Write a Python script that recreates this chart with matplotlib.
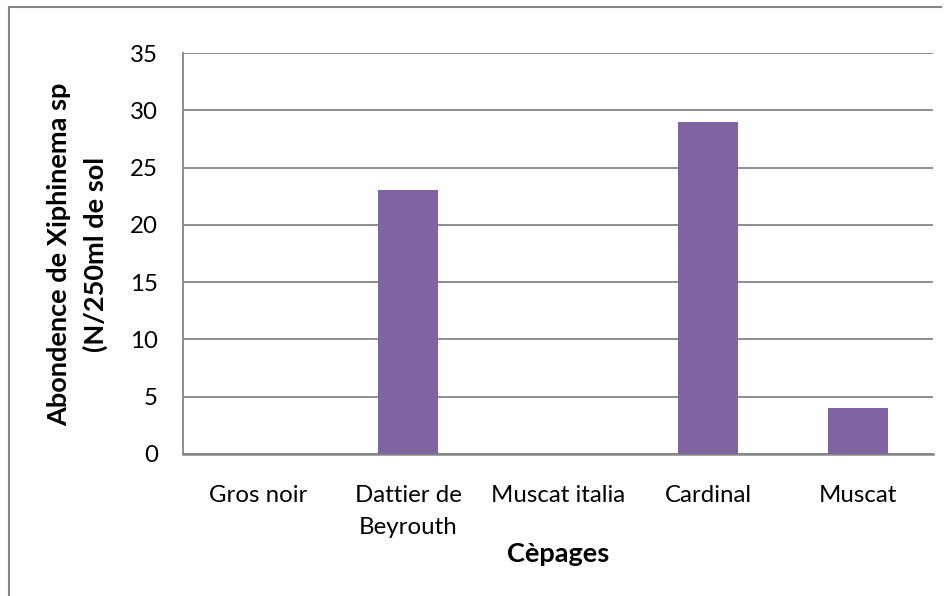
import matplotlib.pyplot as plt
from matplotlib.lines import Line2D

# données
cepages = ['Gros noir', 'Dattier de\nBeyrouth', 'Muscat italia', 'Cardinal', 'Muscat']
abondance = [0, 23, 0, 29, 4]
yticks = [0, 5, 10, 15, 20, 25, 30, 35]

plt.rcParams['font.family'] = ['Lato', 'DejaVu Sans']

W, H = 949, 596
fig = plt.figure(figsize=(W/100, H/100), dpi=100)
ax = fig.add_axes([183/W, 1 - 454/H, (933 - 183)/W, (454 - 53)/H])

x = range(len(cepages))
ax.bar(x, abondance, width=0.4, color='#8064A2', zorder=3)
ax.set_xlim(-0.5, len(cepages) - 0.5)
ax.set_ylim(0, 35)
ax.set_yticks(yticks)
ax.set_xticks(list(x))
ax.set_xticklabels(cepages, fontsize=17.3, linespacing=1.65)
ax.tick_params(axis='y', labelsize=17.3, length=0, pad=18)
ax.tick_params(axis='x', length=0, pad=22.5)
ax.yaxis.grid(True, color='#868686', linewidth=1.3, zorder=0)
for s in ['top', 'right']:
    ax.spines[s].set_visible(False)
ax.spines['left'].set_color('#868686')
ax.spines['bottom'].set_color('#868686')
ax.spines['left'].set_linewidth(1.3)
ax.spines['bottom'].set_linewidth(1.8)

# titres des axes
fig.text(78/W, 1 - 254/H, 'Abondence de Xiphinema sp\n(N/250ml de sol', rotation=90,
         ha='center', va='center', multialignment='center',
         fontsize=19.5, fontweight='bold', linespacing=1.55)
fig.text(558/W, 1 - 562/H, 'Cèpages', ha='center', va='baseline',
         fontsize=19.5, fontweight='bold')

# cadre de la figure
fig.add_artist(Line2D([9/W, 9/W], [0, 1 - 7/H], transform=fig.transFigure, color='#868686', lw=1.5))
fig.add_artist(Line2D([9/W, 941/W], [1 - 7/H, 1 - 7/H], transform=fig.transFigure, color='#868686', lw=1.5))

fig.savefig('out.png', dpi=100)
